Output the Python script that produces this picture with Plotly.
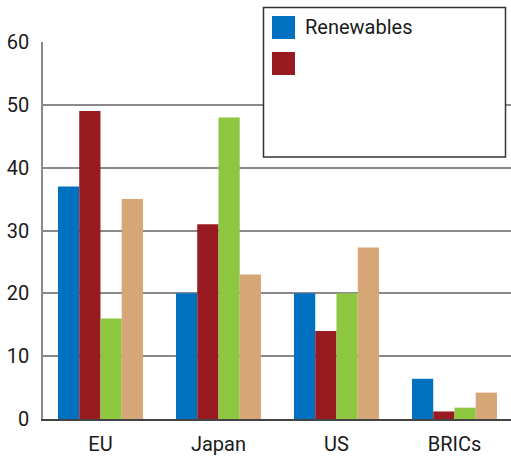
import plotly.graph_objects as go

# Regions on the category axis
categories = ["EU", "Japan", "US", "BRICs"]

# One series per bar colour; only the first carries a name in the key
series_names = ["Renewables", "", "", ""]
series_colors = ["#0070C0", "#971B20", "#8DC63F", "#D6A676"]
series_values = [
    [37, 20, 20, 6.4],
    [49, 31, 14, 1.2],
    [16, 48, 20, 1.8],
    [35, 23, 27.3, 4.2],
]
y_ticks = [0, 10, 20, 30, 40, 50, 60]

W, H = 511, 461
ML, MR, MT, MB = 43, 0, 42, 42
FONT = "Roboto, Liberation Sans, Arial, sans-serif"
TEXT = "#1a1a1a"
FS = 20

fig = go.Figure()
for name, color, vals in zip(series_names, series_colors, series_values):
    fig.add_trace(go.Bar(
        x=categories, y=vals, name=name,
        marker=dict(color=color, line=dict(width=0)),
        showlegend=False,
    ))

# helpers to place the key box in pixel terms
pw, ph = W - ML - MR, H - MT - MB
def px_x(p):
    return (p - ML) / pw
def px_y(p):
    return (H - MB - p) / ph

shapes = [dict(type="rect", xref="paper", yref="paper",
               x0=px_x(263.5), x1=px_x(505.5), y0=px_y(157), y1=px_y(7.5),
               line=dict(color="#333333", width=1.5), fillcolor="white",
               layer="above")]
annotations = []
key_rows = [(series_names[0], series_colors[0]), (series_names[1], series_colors[1])]
for i, (name, color) in enumerate(key_rows):
    top = 16 + i * 36
    shapes.append(dict(type="rect", xref="paper", yref="paper",
                       x0=px_x(272), x1=px_x(295), y0=px_y(top + 23), y1=px_y(top),
                       line=dict(width=0), fillcolor=color, layer="above"))
    if name:
        annotations.append(dict(xref="paper", yref="paper", x=px_x(303), y=px_y(top + 11),
                                text=name, showarrow=False, xanchor="left", yanchor="middle",
                                font=dict(family=FONT, size=FS, color=TEXT)))

fig.update_layout(
    width=W, height=H,
    margin=dict(l=ML, r=MR, t=MT, b=MB, pad=0),
    paper_bgcolor="white", plot_bgcolor="white",
    barmode="group", bargap=0.28, bargroupgap=0,
    font=dict(family=FONT, size=FS, color=TEXT),
    shapes=shapes, annotations=annotations,
    xaxis=dict(
        type="category", range=[-0.487, 3.479],
        showline=True, linecolor="#444444", linewidth=1.5,
        showgrid=False, ticks="", ticklabelstandoff=6,
        tickfont=dict(family=FONT, size=FS, color=TEXT),
    ),
    yaxis=dict(
        range=[0, 60], tickvals=y_ticks,
        showline=True, linecolor="#8a8a8a", linewidth=1.5,
        showgrid=True, gridcolor="#8a8a8a", gridwidth=1.5,
        zeroline=False, ticks="", ticklabelstandoff=8,
        tickfont=dict(family=FONT, size=FS, color=TEXT),
    ),
)

fig.write_html("out.html")
